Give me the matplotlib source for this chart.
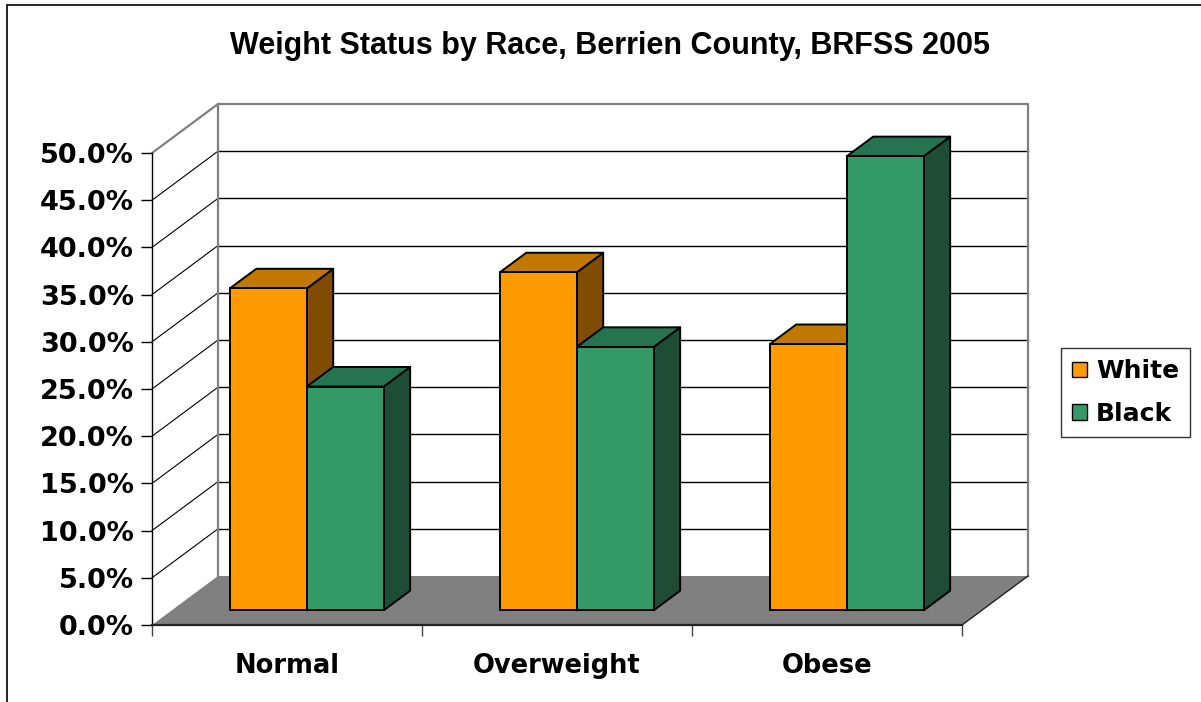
import numpy as np
import matplotlib.pyplot as plt
from matplotlib.patches import Polygon, Patch, Rectangle

# ------------------ DATOS ------------------
categories = ['Normal', 'Overweight', 'Obese']
series_names = ['White', 'Black']
white_vals = [34.1, 35.8, 28.2]
black_vals = [23.7, 27.9, 48.1]
yticks = np.arange(0, 50.1, 5)

# colores: frente, arriba, lado
colors = {
    'White': ('#FF9900', '#C07800', '#804C00'),
    'Black': ('#339966', '#267350', '#1D4D36'),
}

W, H = 1201, 702
fig = plt.figure(figsize=(W / 100, H / 100), dpi=100)

# eje principal: x en categorias (0..3), y en porcentaje (0..50)
x0, x1, y0, y1 = 152, 962, 625, 153
ax = fig.add_axes([x0 / W, (H - y0) / H, (x1 - x0) / W, (y0 - y1) / H])
ax.set_xlim(0, 3)
ax.set_ylim(0, 50)
ax.patch.set_visible(False)

# profundidad del efecto 3D (en unidades de datos)
dx = 66 / (x1 - x0) * 3
dy = 49 / (y0 - y1) * 50

wall_gray = '#808080'
ncat = len(categories)

# piso
floor = Polygon([(0, 0), (ncat, 0), (ncat + dx, dy), (dx, dy)], closed=True,
                facecolor='#808080', edgecolor='none', clip_on=False, zorder=1)
ax.add_patch(floor)
ax.plot([ncat, ncat + dx], [0, dy], color='#222222', lw=1.0, clip_on=False, zorder=2)

# lineas de la cuadricula (pared de fondo y pared izquierda)
for v in yticks[1:-1]:
    ax.plot([dx, ncat + dx], [v + dy, v + dy], color='black', lw=1.0, clip_on=False, zorder=1)
    ax.plot([0, dx], [v, v + dy], color='black', lw=0.8, clip_on=False, zorder=1)

# bordes de las paredes
top = yticks[-1]
ax.plot([0, dx, ncat + dx, ncat + dx], [top, top + dy, top + dy, dy],
        color=wall_gray, lw=1.6, clip_on=False, zorder=1)
ax.plot([dx, dx], [dy, top + dy], color=wall_gray, lw=1.6, clip_on=False, zorder=1)

# barras 3D
bar_w = 0.285
f0, f1 = 0.3, 0.7  # posicion de la barra en la profundidad
for i in range(ncat):
    for j, (name, vals) in enumerate([('White', white_vals), ('Black', black_vals)]):
        front, topc, side = colors[name]
        left = i + 0.5 - bar_w + j * bar_w + f0 * dx
        right = left + bar_w
        base = f0 * dy
        h = vals[i]
        ddx, ddy = (f1 - f0) * dx, (f1 - f0) * dy
        z = 3 + i * 2 + j
        ax.add_patch(Polygon([(right, base), (right + ddx, base + ddy),
                              (right + ddx, base + h + ddy), (right, base + h)],
                             facecolor=side, edgecolor='black', lw=1.4,
                             clip_on=False, zorder=z, joinstyle='round'))
        ax.add_patch(Polygon([(left, base + h), (right, base + h),
                              (right + ddx, base + h + ddy), (left + ddx, base + h + ddy)],
                             facecolor=topc, edgecolor='black', lw=1.4,
                             clip_on=False, zorder=z, joinstyle='round'))
        ax.bar(left, h, width=bar_w, bottom=base, align='edge', color=front,
               edgecolor='black', linewidth=1.4, clip_on=False, zorder=z)

# ejes
for s in ['top', 'right']:
    ax.spines[s].set_visible(False)
ax.spines['left'].set_color('black')
ax.spines['left'].set_linewidth(1.0)
ax.spines['bottom'].set_color('#222222')
ax.spines['bottom'].set_linewidth(1.6)
ax.spines['left'].set_zorder(20)
ax.spines['bottom'].set_zorder(20)

ax.set_yticks(yticks)
ax.set_yticklabels(['%.1f%%' % v for v in yticks], fontsize=19.5, fontweight='bold',
                   family='DejaVu Sans')
ax.tick_params(axis='y', direction='out', length=8, width=1.0, pad=5)

ax.set_xticks(np.arange(0, ncat + 1))
ax.set_xticklabels([])
ax.tick_params(axis='x', which='major', direction='out', length=8, width=1.0,
               color='#444444')
ax.set_xticks(np.arange(ncat) + 0.5, minor=True)
ax.set_xticklabels(categories, minor=True, fontsize=18.5, fontweight='bold',
                   family='DejaVu Sans')
ax.tick_params(axis='x', which='minor', length=0, pad=20)

# titulo
fig.text(610 / W, 1 - 46 / H, 'Weight Status by Race, Berrien County, BRFSS 2005',
         ha='center', va='center', fontsize=22, fontweight='bold',
         family='Liberation Sans')

# leyenda
handles = [Patch(facecolor=colors[n][0], edgecolor='black', lw=1.0) for n in series_names]
leg = fig.legend(handles, series_names, loc='upper left',
                 bbox_to_anchor=(1061 / W, 1 - 348 / H),
                 prop={'family': 'DejaVu Sans', 'weight': 'bold', 'size': 18},
                 frameon=True, fancybox=False, handlelength=0.6, handleheight=0.6,
                 handletextpad=0.35, labelspacing=0.75, borderpad=0.45,
                 borderaxespad=0)
leg.get_frame().set_edgecolor('black')
leg.get_frame().set_linewidth(1.0)

# borde del grafico
fig.patches.append(Rectangle((7 / W, -0.1), 1.2, 1 - 5 / H + 0.1,
                             transform=fig.transFigure, fill=False,
                             edgecolor='black', lw=1.2, figure=fig))

plt.savefig('out.png', dpi=100)
